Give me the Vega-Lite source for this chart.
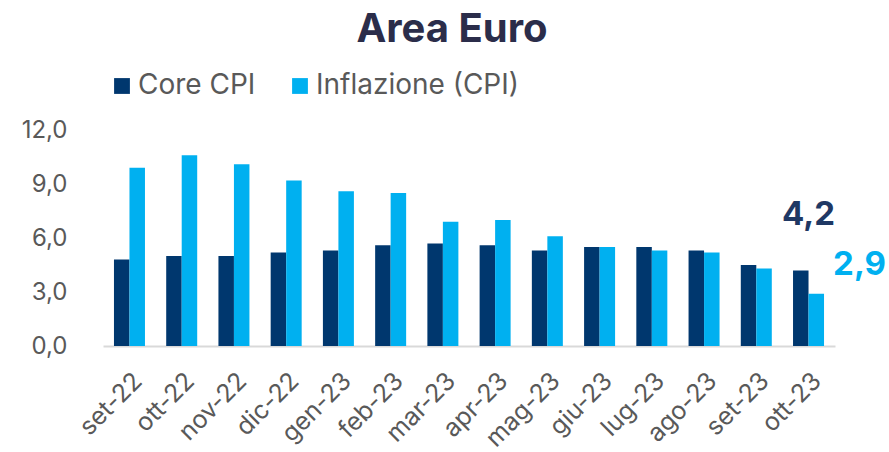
{
  "$schema": "https://vega.github.io/schema/vega-lite/v6.json",
  "autosize": "none",
  "width": 732,
  "height": 216,
  "padding": {"left": 103, "top": 130, "right": 54, "bottom": 106},
  "background": "white",
  "config": {
    "locale": {"number": {"decimal": ",", "thousands": ".", "grouping": [3], "currency": ["€", ""]}},
    "font": "Inter",
    "view": {"stroke": null}
  },
  "title": {
    "text": "Area Euro",
    "font": "Inter",
    "fontSize": 40,
    "fontWeight": "bold",
    "color": "#2B2D4A",
    "anchor": "middle",
    "frame": "group",
    "dx": -17,
    "offset": 22
  },
  "data": {
    "values": [
      {"mese": "set-22", "serie": "Core CPI", "valore": 4.8},
      {"mese": "set-22", "serie": "Inflazione (CPI)", "valore": 9.9},
      {"mese": "ott-22", "serie": "Core CPI", "valore": 5.0},
      {"mese": "ott-22", "serie": "Inflazione (CPI)", "valore": 10.6},
      {"mese": "nov-22", "serie": "Core CPI", "valore": 5.0},
      {"mese": "nov-22", "serie": "Inflazione (CPI)", "valore": 10.1},
      {"mese": "dic-22", "serie": "Core CPI", "valore": 5.2},
      {"mese": "dic-22", "serie": "Inflazione (CPI)", "valore": 9.2},
      {"mese": "gen-23", "serie": "Core CPI", "valore": 5.3},
      {"mese": "gen-23", "serie": "Inflazione (CPI)", "valore": 8.6},
      {"mese": "feb-23", "serie": "Core CPI", "valore": 5.6},
      {"mese": "feb-23", "serie": "Inflazione (CPI)", "valore": 8.5},
      {"mese": "mar-23", "serie": "Core CPI", "valore": 5.7},
      {"mese": "mar-23", "serie": "Inflazione (CPI)", "valore": 6.9},
      {"mese": "apr-23", "serie": "Core CPI", "valore": 5.6},
      {"mese": "apr-23", "serie": "Inflazione (CPI)", "valore": 7.0},
      {"mese": "mag-23", "serie": "Core CPI", "valore": 5.3},
      {"mese": "mag-23", "serie": "Inflazione (CPI)", "valore": 6.1},
      {"mese": "giu-23", "serie": "Core CPI", "valore": 5.5},
      {"mese": "giu-23", "serie": "Inflazione (CPI)", "valore": 5.5},
      {"mese": "lug-23", "serie": "Core CPI", "valore": 5.5},
      {"mese": "lug-23", "serie": "Inflazione (CPI)", "valore": 5.3},
      {"mese": "ago-23", "serie": "Core CPI", "valore": 5.3},
      {"mese": "ago-23", "serie": "Inflazione (CPI)", "valore": 5.2},
      {"mese": "set-23", "serie": "Core CPI", "valore": 4.5},
      {"mese": "set-23", "serie": "Inflazione (CPI)", "valore": 4.3},
      {"mese": "ott-23", "serie": "Core CPI", "valore": 4.2},
      {"mese": "ott-23", "serie": "Inflazione (CPI)", "valore": 2.9}
    ]
  },
  "encoding": {
    "x": {
      "field": "mese",
      "type": "nominal",
      "sort": null,
      "title": null,
      "scale": {"paddingInner": 0.4065, "paddingOuter": 0.21},
      "axis": {
        "labelAngle": -45,
        "labelFontSize": 25,
        "labelColor": "#595959",
        "labelPadding": 22,
        "ticks": false,
        "domainColor": "#D9D9D9",
        "domainWidth": 2,
        "grid": false
      }
    },
    "y": {
      "field": "valore",
      "type": "quantitative",
      "title": null,
      "scale": {"domain": [0, 12], "nice": false},
      "axis": {
        "values": [0, 3, 6, 9, 12],
        "format": ".1f",
        "labelFontSize": 24,
        "labelColor": "#595959",
        "labelPadding": 36,
        "ticks": false,
        "domain": false,
        "grid": false
      }
    }
  },
  "layer": [
    {
      "mark": {"type": "bar"},
      "encoding": {
        "xOffset": {"field": "serie", "type": "nominal", "sort": ["Core CPI", "Inflazione (CPI)"]},
        "color": {
          "field": "serie",
          "type": "nominal",
          "scale": {"domain": ["Core CPI", "Inflazione (CPI)"], "range": ["#00376E", "#00B0F0"]},
          "legend": {
            "title": null,
            "orient": "none",
            "legendX": 5,
            "legendY": -58,
            "direction": "horizontal",
            "symbolType": "square",
            "symbolSize": 250,
            "symbolStrokeWidth": 0,
            "labelFontSize": 28,
            "labelLimit": 400,
            "labelColor": "#595959",
            "labelOffset": 2,
            "columnPadding": 30
          }
        }
      }
    },
    {
      "transform": [{"filter": "datum.mese == 'ott-23' && datum.serie == 'Core CPI'"}],
      "mark": {"type": "text", "font": "Inter", "fontSize": 33, "fontWeight": "bold", "color": "#1F3864", "dy": -55, "baseline": "middle"},
      "encoding": {"text": {"field": "valore", "type": "quantitative", "format": ".1f"}}
    },
    {
      "transform": [{"filter": "datum.mese == 'ott-23' && datum.serie == 'Inflazione (CPI)'"}],
      "mark": {"type": "text", "font": "Inter", "fontSize": 33, "fontWeight": "bold", "color": "#00B0F0", "dx": 51, "dy": -29, "baseline": "middle"},
      "encoding": {"text": {"field": "valore", "type": "quantitative", "format": ".1f"}}
    }
  ]
}
